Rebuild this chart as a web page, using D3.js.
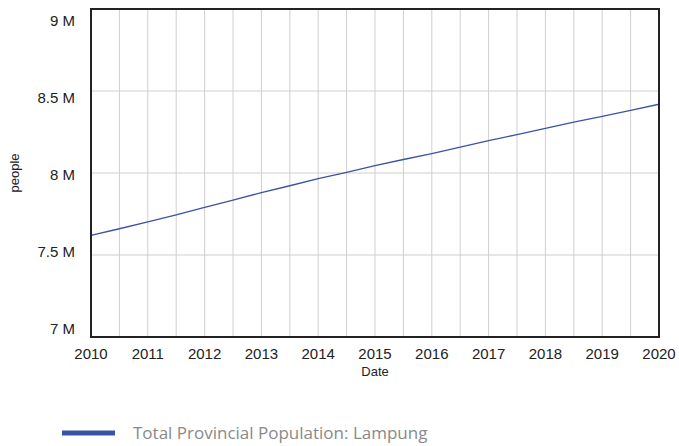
<!DOCTYPE html>
<html><head><meta charset="utf-8">
<script src="https://cdn.jsdelivr.net/npm/d3@7"></script>
<style>body{margin:0;background:#fff}svg{display:block}</style>
</head><body>
<svg id="c" width="679" height="446"></svg>
<script>
const dates = [2010,2010.5,2011,2011.5,2012,2012.5,2013,2013.5,2014,2014.5,2015,2015.5,2016,2016.5,2017,2017.5,2018,2018.5,2019,2019.5,2020];
const population = [7.620,7.660,7.702,7.745,7.790,7.835,7.880,7.922,7.966,8.004,8.045,8.082,8.118,8.158,8.197,8.234,8.272,8.310,8.345,8.382,8.419];
const yTicks = [7,7.5,8,8.5,9];
const yTickLabels = ["7 M","7.5 M","8 M","8.5 M","9 M"];
const xTicks = [2010,2011,2012,2013,2014,2015,2016,2017,2018,2019,2020];
const xGrid = d3.range(2010,2020.01,0.5);
const seriesName = "Total Provincial Population: Lampung";

const svg = d3.select("#c");
const L=91,R=659,T=9,B=337;
const x = d3.scaleLinear().domain([2010,2020]).range([L,R]);
const y = d3.scaleLinear().domain([7,9]).range([B,T]);
const yLab = d3.scaleLinear().domain([7,9]).range([328,20]);
const FONT = "'Liberation Sans', Arial, Helvetica, sans-serif";

const g = svg.append("g");
g.selectAll("line.vg").data(xGrid).enter().append("line")
 .attr("x1",d=>x(d)).attr("x2",d=>x(d)).attr("y1",T).attr("y2",B)
 .attr("stroke","#cfcfcf").attr("stroke-width",1);
g.selectAll("line.hg").data(yTicks).enter().append("line")
 .attr("x1",L).attr("x2",R).attr("y1",d=>y(d)).attr("y2",d=>y(d))
 .attr("stroke","#cfcfcf").attr("stroke-width",1);

const line = d3.line().x((d,i)=>x(dates[i])).y(d=>y(d));
svg.append("path").datum(population).attr("d",line)
 .attr("fill","none").attr("stroke","#3a54a4").attr("stroke-width",1.4);

svg.append("rect").attr("x",L).attr("y",T).attr("width",R-L).attr("height",B-T)
 .attr("fill","none").attr("stroke","#222").attr("stroke-width",2);

svg.selectAll("text.yl").data(yTicks).enter().append("text")
 .attr("x",75).attr("y",d=>yLab(d)).attr("text-anchor","end").attr("dominant-baseline","central")
 .attr("font-family",FONT).attr("font-size",15).attr("fill","#222")
 .text((d,i)=>yTickLabels[i]);
svg.selectAll("text.xl").data(xTicks).enter().append("text")
 .attr("x",d=>x(d)).attr("y",359).attr("text-anchor","middle")
 .attr("font-family",FONT).attr("font-size",15).attr("fill","#222")
 .text(d=>d);
svg.append("text").attr("x",375).attr("y",376).attr("text-anchor","middle")
 .attr("font-family",FONT).attr("font-size",13).attr("fill","#222").text("Date");
svg.append("text").attr("transform","translate(19,173) rotate(-90)").attr("text-anchor","middle")
 .attr("font-family",FONT).attr("font-size",13).attr("fill","#222").text("people");

svg.append("line").attr("x1",62).attr("x2",115).attr("y1",433).attr("y2",433)
 .attr("stroke","#3a54a4").attr("stroke-width",5);
svg.append("text").attr("x",133).attr("y",439)
 .attr("font-family","'Open Sans', sans-serif").attr("font-size",17).attr("fill","#8a8a8a").text(seriesName);
</script>
</body></html>
